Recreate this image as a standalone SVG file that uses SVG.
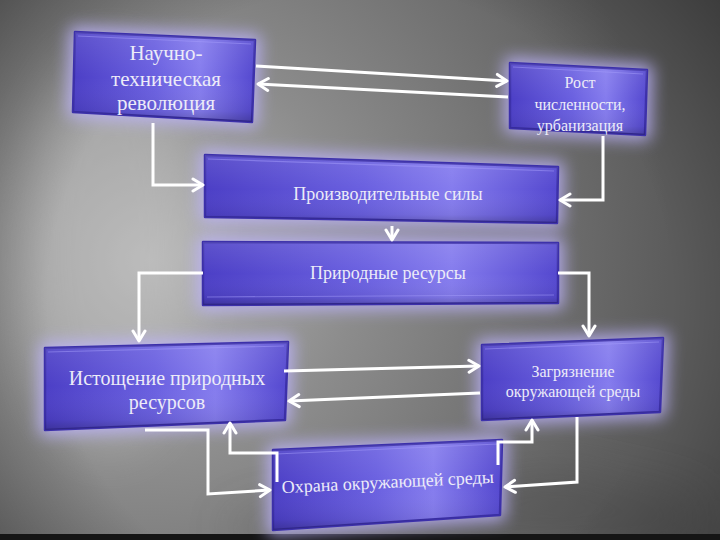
<svg xmlns="http://www.w3.org/2000/svg" width="720" height="540" viewBox="0 0 720 540">
<defs>
  <radialGradient id="bgLight" cx="150" cy="260" r="520" gradientUnits="userSpaceOnUse">
    <stop offset="0" stop-color="#b4b4b4"/>
    <stop offset="0.4" stop-color="#8c8c8c"/>
    <stop offset="1" stop-color="#5c5c5c"/>
  </radialGradient>
  <radialGradient id="vig" cx="360" cy="300" r="520" gradientUnits="userSpaceOnUse">
    <stop offset="0.6" stop-color="#000" stop-opacity="0"/>
    <stop offset="1" stop-color="#000" stop-opacity="0.45"/>
  </radialGradient>
  <linearGradient id="boxFill" x1="0" y1="0" x2="1" y2="0">
    <stop offset="0" stop-color="#4c3fc6"/>
    <stop offset="0.45" stop-color="#6a60e0"/>
    <stop offset="0.7" stop-color="#857cee"/>
    <stop offset="1" stop-color="#5448cf"/>
  </linearGradient>
  <linearGradient id="boxShade" x1="0" y1="0" x2="0" y2="1">
    <stop offset="0" stop-color="#fff" stop-opacity="0.1"/>
    <stop offset="0.5" stop-color="#fff" stop-opacity="0"/>
    <stop offset="0.88" stop-color="#000" stop-opacity="0.06"/>
    <stop offset="1" stop-color="#000" stop-opacity="0.22"/>
  </linearGradient>
  <filter id="glow" x="-20%" y="-40%" width="140%" height="180%">
    <feGaussianBlur stdDeviation="8"/>
  </filter>
  <filter id="soft" x="-50%" y="-50%" width="200%" height="200%">
    <feGaussianBlur stdDeviation="25"/>
  </filter>
  <marker id="ah" viewBox="0 0 14 16" refX="12" refY="8" markerWidth="14" markerHeight="16" markerUnits="userSpaceOnUse" orient="auto">
    <path d="M2,2 L12,8 L2,14" fill="none" stroke="#ffffff" stroke-width="3" stroke-linecap="round" stroke-linejoin="round"/>
  </marker>
  <style>
    .glow { fill: #beb4ff; stroke: #beb4ff; stroke-width: 12; stroke-linejoin: round; opacity: 0.8; filter: url(#glow); }
    .box { fill: url(#boxFill); stroke: #3c30aa; stroke-width: 2.5; stroke-linejoin: round; }
    .shade { fill: url(#boxShade); stroke: none; }
    .hl { fill: none; stroke: #a69dfc; stroke-width: 1.2; opacity: 0.5; }
    .lbl { font-family: "Liberation Serif", "DejaVu Serif", "Times New Roman", serif; fill: #ecebf8; text-anchor: middle; }
    .conn { fill: none; stroke: #ffffff; stroke-width: 3; stroke-linejoin: miter; }
  </style>
</defs>

<!-- background -->
<rect x="0" y="0" width="720" height="540" fill="url(#bgLight)"/>
<ellipse cx="110" cy="250" rx="90" ry="200" fill="#cfcfcf" opacity="0.3" filter="url(#soft)"/>
<path d="M230,520 L560,470 L700,500 L700,540 L230,540 Z" fill="#3c3c3c" opacity="0.3" filter="url(#soft)"/>
<rect x="0" y="0" width="720" height="540" fill="url(#vig)"/>
<rect x="0" y="534" width="720" height="6" fill="#151515"/>

<!-- nodes -->
<g id="node-ntr">
  <polygon class="glow" points="75,32 255,40 252,122 73,112"/>
  <polygon class="box" points="75,32 255,40 252,122 73,112"/>
  <polygon class="shade" points="75,32 255,40 252,122 73,112"/>
  <polyline class="hl" points="78,36 251,44"/>
  <text class="lbl" font-size="21" x="166" y="60">Научно-</text>
  <text class="lbl" font-size="21" x="166" y="86">техническая</text>
  <text class="lbl" font-size="21" x="166" y="110">революция</text>
</g>

<g id="node-growth">
  <polygon class="glow" points="510,63 647,70 645,135 510,128"/>
  <polygon class="box" points="510,63 647,70 645,135 510,128"/>
  <polygon class="shade" points="510,63 647,70 645,135 510,128"/>
  <polyline class="hl" points="513,67 643,74"/>
  <text class="lbl" font-size="16" x="580" y="88">Рост</text>
  <text class="lbl" font-size="16" x="580" y="110">численности,</text>
  <text class="lbl" font-size="16" x="580" y="131">урбанизация</text>
</g>

<g id="node-forces">
  <polygon class="glow" points="205,155 558,167 557,223 205,217"/>
  <polygon class="box" points="205,155 558,167 557,223 205,217"/>
  <polygon class="shade" points="205,155 558,167 557,223 205,217"/>
  <polyline class="hl" points="208,159 554,171"/>
  <text class="lbl" font-size="18" x="388" y="200">Производительные силы</text>
</g>

<g id="node-resources">
  <polygon class="glow" points="203,242 558,243 558,303 203,305"/>
  <polygon class="box" points="203,242 558,243 558,303 203,305"/>
  <polygon class="shade" points="203,242 558,243 558,303 203,305"/>
  <polyline class="hl" points="207,297 554,295"/>
  <text class="lbl" font-size="18" x="388" y="279">Природные ресурсы</text>
</g>

<g id="node-depletion">
  <polygon class="glow" points="45,348 288,342 285,420 45,430"/>
  <polygon class="box" points="45,348 288,342 285,420 45,430"/>
  <polygon class="shade" points="45,348 288,342 285,420 45,430"/>
  <polyline class="hl" points="48,352 284,346"/>
  <text class="lbl" font-size="20" x="167" y="385">Истощение природных</text>
  <text class="lbl" font-size="20" x="167" y="409">ресурсов</text>
</g>

<g id="node-pollution">
  <polygon class="glow" points="482,345 663,338 660,412 482,420"/>
  <polygon class="box" points="482,345 663,338 660,412 482,420"/>
  <polygon class="shade" points="482,345 663,338 660,412 482,420"/>
  <polyline class="hl" points="485,349 659,342"/>
  <text class="lbl" font-size="16" x="573" y="377">Загрязнение</text>
  <text class="lbl" font-size="16" x="573" y="397">окружающей среды</text>
</g>

<g id="node-protection">
  <polygon class="glow" points="273,450 502,440 500,515 273,530"/>
  <polygon class="box" points="273,450 502,440 500,515 273,530"/>
  <polygon class="shade" points="273,450 502,440 500,515 273,530"/>
  <polyline class="hl" points="276,454 498,444"/>
  <text class="lbl" font-size="18" x="388" y="488" transform="rotate(-2.8 388 488)">Охрана окружающей среды</text>
</g>

<!-- connectors -->
<g id="connectors">
  <path class="conn" d="M256,66 L507,81" marker-end="url(#ah)"/>
  <path class="conn" d="M508,97 L258,84" marker-end="url(#ah)"/>
  <path class="conn" d="M153,123 L153,185 L203,185" marker-end="url(#ah)"/>
  <path class="conn" d="M603,136 L603,200 L560,200" marker-end="url(#ah)"/>
  <path class="conn" d="M392,226 L392,240" marker-end="url(#ah)"/>
  <path class="conn" d="M203,273 L139,273 L139,341" marker-end="url(#ah)"/>
  <path class="conn" d="M558,273 L589,273 L589,336" marker-end="url(#ah)"/>
  <path class="conn" d="M284,371 L479,366" marker-end="url(#ah)"/>
  <path class="conn" d="M480,393 L289,401" marker-end="url(#ah)"/>
  <path class="conn" d="M145,430 L208,430 L208,494 L270,490" marker-end="url(#ah)"/>
  <path class="conn" d="M277,482 L277,453 L230,453 L230,423" marker-end="url(#ah)"/>
  <path class="conn" d="M498,465 L498,442 L532,442 L532,420" marker-end="url(#ah)"/>
  <path class="conn" d="M577,417 L577,482 L505,487" marker-end="url(#ah)"/>
</g>
</svg>
